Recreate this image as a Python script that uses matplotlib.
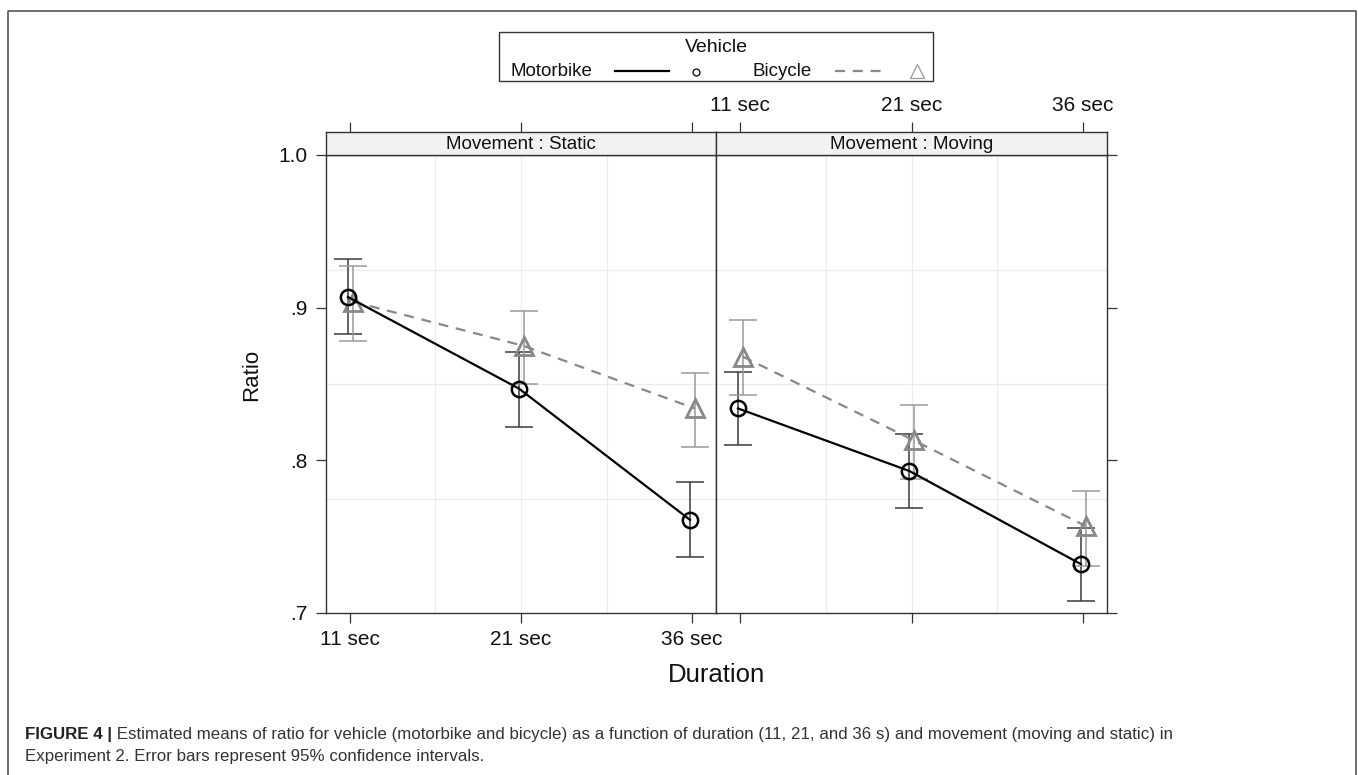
import numpy as np
import matplotlib
matplotlib.use("Agg")
import matplotlib.pyplot as plt
from matplotlib.lines import Line2D
from matplotlib.patches import Rectangle
from matplotlib.text import Annotation

plt.rcParams['font.family'] = ['Liberation Sans', 'DejaVu Sans']

durations = ['11 sec', '21 sec', '36 sec']
movements = ['Static', 'Moving']

# estimated means + 95% CI, rows = movement (static, moving)
moto_mean = [[0.907, 0.847, 0.761], [0.834, 0.793, 0.732]]
moto_lo = [[0.883, 0.822, 0.737], [0.810, 0.769, 0.708]]
moto_hi = [[0.932, 0.871, 0.786], [0.858, 0.817, 0.756]]

bike_mean = [[0.904, 0.875, 0.834], [0.868, 0.813, 0.757]]
bike_lo = [[0.878, 0.850, 0.809], [0.843, 0.788, 0.731]]
bike_hi = [[0.927, 0.898, 0.857], [0.892, 0.836, 0.780]]

yticks = [0.7, 0.8, 0.9, 1.0]
ytick_labels = ['.7', '.8', '.9', '1.0']

W, H = 1358, 775
fig = plt.figure(figsize=(W / 100, H / 100), dpi=100)

def fx(px):
    return px / W

def fy(py):
    return 1 - py / H

edge = '#333333'
x = np.arange(1, len(durations) + 1)

for i, mv in enumerate(movements):
    left = 326 if i == 0 else 716
    width = 390 if i == 0 else 391
    ax = fig.add_axes([fx(left), fy(613), fx(width), (613 - 155) / H])
    st = fig.add_axes([fx(left), fy(155), fx(width), 23 / H])

    ax.set_xlim(0.86, 3.14)
    ax.set_ylim(0.7, 1.0)
    for g in [1.5, 2, 2.5]:
        ax.axvline(g, color='#ebebeb', lw=0.8, zorder=0)
    for g in [0.775, 0.85, 0.925]:
        ax.axhline(g, color='#ebebeb', lw=0.8, zorder=0)

    # motorbike
    m = np.array(moto_mean[i])
    xm = x - 0.012
    ax.errorbar(xm, m, yerr=[m - np.array(moto_lo[i]), np.array(moto_hi[i]) - m],
                fmt='none', ecolor='#3a3a3a', elinewidth=1.1, capsize=10,
                capthick=1.1, zorder=2)
    ax.plot(xm, m, color='black', lw=1.6, marker='o', ms=11, mfc='none',
            mec='black', mew=1.8, zorder=4)

    # bicycle
    b = np.array(bike_mean[i])
    xb = x + 0.015
    ax.errorbar(xb, b, yerr=[b - np.array(bike_lo[i]), np.array(bike_hi[i]) - b],
                fmt='none', ecolor='#9a9a9a', elinewidth=1.1, capsize=10,
                capthick=1.1, zorder=2)
    ax.plot(xb, b, color='#888888', lw=1.6, ls=(0, (4.5, 3.5)), marker='^',
            ms=13, mfc='none', mec='#888888', mew=2, zorder=3)

    for sp in ax.spines.values():
        sp.set_color(edge)
        sp.set_linewidth(1.0)

    ax.set_xticks(x)
    ax.set_yticks(yticks)
    ax.tick_params(direction='out', length=7.5, width=0.9, color=edge,
                   labelsize=15, labelcolor='#111111')
    ax.tick_params(axis='x', pad=5)
    ax.tick_params(axis='y', pad=6)
    if i == 0:
        ax.set_xticklabels(durations)
        ax.set_yticklabels(ytick_labels)
        ax.yaxis.set_ticks_position('left')
    else:
        ax.set_xticklabels([])
        ax.yaxis.set_ticks_position('right')
        ax.set_yticklabels([])
    ax.xaxis.set_ticks_position('bottom')

    # strip
    st.set_xlim(0.86, 3.14)
    st.set_ylim(0, 1)
    st.set_facecolor('#f2f2f2')
    for sp in st.spines.values():
        sp.set_color(edge)
        sp.set_linewidth(1.0)
    st.set_yticks([])
    st.set_xticks(x)
    st.xaxis.set_ticks_position('top')
    st.tick_params(axis='x', direction='out', length=7, width=0.9, color=edge,
                   labelsize=15, labelcolor='#111111', pad=5)
    st.set_xticklabels(durations if i == 1 else [])
    st.text(0.5, 0.45, 'Movement : ' + mv, transform=st.transAxes,
            ha='center', va='center', fontsize=13.5, color='#111111')

fig.text(fx(252), fy(375), 'Ratio', rotation=90, ha='center', va='center',
         fontsize=16, color='#111111')
fig.text(fx(716), fy(675), 'Duration', ha='center', va='center',
         fontsize=18.5, color='#111111')

# key
fig.add_artist(Rectangle((fx(499), fy(81)), fx(933 - 499), (81 - 31.7) / H,
                         transform=fig.transFigure, fill=False, ec=edge, lw=1.0))
fig.text(fx(716), fy(47), 'Vehicle', ha='center', va='center', fontsize=14,
         color='#111111')
fig.text(fx(510), fy(72), 'Motorbike', ha='left', va='center', fontsize=13.5,
         color='#111111')
fig.add_artist(Line2D([fx(615), fx(669)], [fy(71), fy(71)], color='black', lw=1.6,
                      transform=fig.transFigure))
fig.add_artist(Line2D([fx(696)], [fy(72)], marker='o', ms=5, mfc='none', mec='black',
                      mew=0.9, transform=fig.transFigure))
fig.text(fx(753), fy(72), 'Bicycle', ha='left', va='center', fontsize=13.5,
         color='#111111')
fig.add_artist(Line2D([fx(835), fx(885)], [fy(71), fy(71)], color='#888888', lw=1.6,
                      ls=(0, (4.5, 3.5)), transform=fig.transFigure))
fig.add_artist(Line2D([fx(917)], [fy(71)], marker='^', ms=10, mfc='none',
                      mec='#999999', mew=0.9, transform=fig.transFigure))

# outer frame
frame_kw = dict(color='#555555', lw=1.2, transform=fig.transFigure)
fig.add_artist(Line2D([fx(8), fx(8), fx(1355.5), fx(1355.5)],
                      [fy(790), fy(11), fy(11), fy(790)], **frame_kw))

# caption
cap1 = fig.text(fx(25), fy(739), 'FIGURE 4 |', ha='left', va='baseline',
                fontsize=12.2, fontweight='bold', color='#222222')
rest = (' Estimated means of ratio for vehicle (motorbike and bicycle) as a function '
        'of duration (11, 21, and 36 s) and movement (moving and static) in')
fig.add_artist(Annotation(rest, xy=(1, 0), xycoords=cap1, va='bottom', ha='left',
                          fontsize=12.2, color='#333333'))
fig.text(fx(25), fy(761), 'Experiment 2. Error bars represent 95% confidence intervals.',
         ha='left', va='baseline', fontsize=12.2, color='#333333')

fig.savefig('out.png', dpi=100)
